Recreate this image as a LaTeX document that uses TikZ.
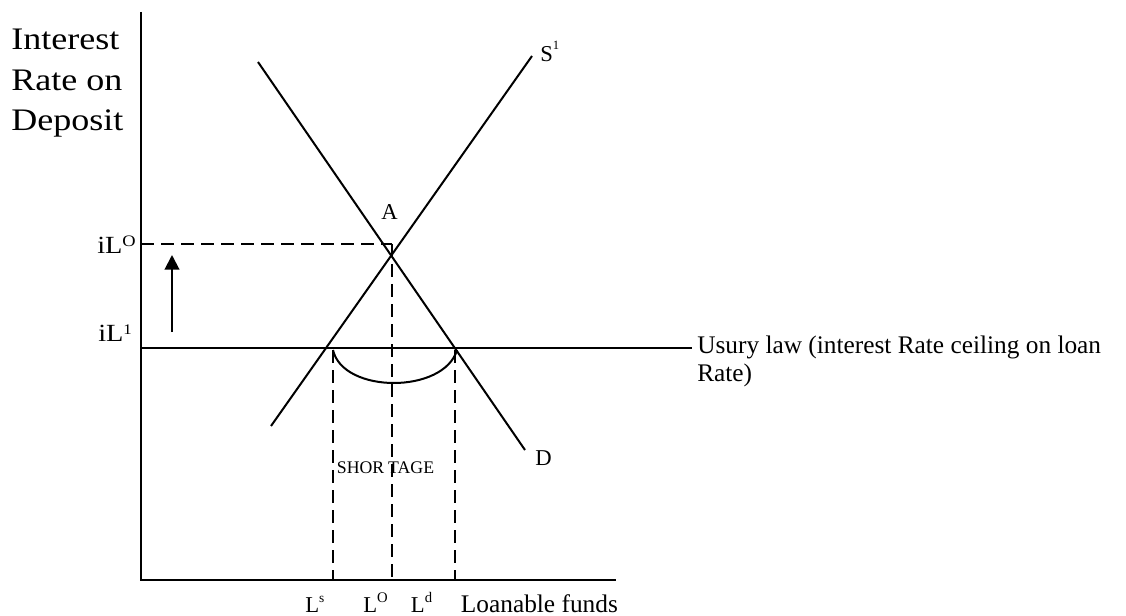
\documentclass[tikz,border=0pt]{standalone}
\usepackage{fontspec}
\setmainfont{Liberation Serif}
\newfontfamily\widefont[FakeStretch=1.15]{Liberation Serif}
\usetikzlibrary{arrows.meta}
\newcommand{\myup}[3]{\raisebox{#1}{\fontsize{#2}{#2}\selectfont #3}}
\begin{document}
\begin{tikzpicture}[x=0.75pt,y=-0.75pt,
  axisline/.style={line width=1.5pt},
  curve/.style={line width=1.5pt},
  guide/.style={line width=1.5pt,dash pattern=on 9.75pt off 5.25pt},
  lbl/.style={inner sep=0pt,anchor=base west,font=\fontsize{17pt}{20pt}\selectfont},
  biglbl/.style={inner sep=0pt,anchor=base west,align=left,font=\fontsize{19pt}{20.6pt}\selectfont},
  axtitle/.style={inner sep=0pt,anchor=base west,align=left,font=\widefont\fontsize{23.5pt}{30.4pt}\selectfont},
  ticklbl/.style={inner sep=0pt,anchor=base west,font=\widefont\fontsize{18.5pt}{20pt}\selectfont},
]
\useasboundingbox (0,0) rectangle (1126,616);
% axes
\coordinate (O) at (141,580);
\coordinate (Ytop) at (141,12);
\coordinate (Xend) at (616,580);
\draw[axisline] (Ytop) -- (O) -- (Xend);
% demand and supply
\coordinate (Dtop) at (258,62);
\coordinate (Dbot) at (525,450);
\coordinate (Sbot) at (271,426);
\coordinate (Stop) at (532,56);
\draw[curve] (Dtop) -- (Dbot);
\draw[curve] (Sbot) -- (Stop);
\coordinate (A) at (intersection of Dtop--Dbot and Sbot--Stop);
% ceiling line
\coordinate (C0) at (141,347.5);
\coordinate (C1) at (692,347.5);
\draw[curve] (C0) -- (C1);
% equilibrium guides
\coordinate (iLOy) at (141,244);
\coordinate (Acorner) at (392,244);
\coordinate (LOx) at (392,580);
\draw[guide] (iLOy) -- (Acorner);
\draw[guide] (Acorner) -- (LOx);
% shortage guides
\coordinate (Ltop) at (333,350);
\coordinate (Lsx) at (333,580);
\coordinate (Rtop) at (455,350);
\coordinate (Ldx) at (455,580);
\draw[guide] (Ltop) -- (Lsx);
\draw[guide] (Rtop) -- (Ldx);
% shortage arc
\coordinate (arcL) at (333,350);
\coordinate (arcR) at (457,350);
\draw[curve] (arcL) .. controls (343,394) and (444,394) .. (arcR);
% arrow
\coordinate (arrB) at (172,332);
\coordinate (arrT) at (172,255);
\draw[curve,-{Triangle[length=11pt,width=11pt]}] (arrB) -- (arrT);
% labels
\node[axtitle] (ytitle) at (11,131) {Interest\\Rate on\\Deposit};
\node[lbl] (Slbl) at (540,61.7) {S\myup{9pt}{9.5pt}{1}};
\node[lbl] (Albl) at (381,220) {A};
\node[lbl] (Dlbl) at (535,465) {D};
\node[ticklbl] (iLO) at (97,253.3) {iL\myup{5pt}{12pt}{O}};
\node[ticklbl] (iL1) at (98,341.7) {iL\myup{5.5pt}{11pt}{1}};
\node[biglbl] (usury) at (697,381) {Usury law (interest Rate ceiling on loan\\Rate)};
\node[inner sep=0pt,anchor=base,font=\fontsize{13.3pt}{15pt}\selectfont] (short) at (385.5,473.5) {SHOR\kern3pt TAGE};
\node[lbl] (Ls) at (305,612) {L\myup{7.5pt}{10pt}{s}};
\node[lbl] (LO) at (363,612) {L\myup{6.8pt}{11pt}{O}};
\node[lbl] (Ld) at (410.7,612) {L\myup{7.5pt}{11pt}{d}};
\node[biglbl] (xtitle) at (460.7,612) {Loanable funds};
\end{tikzpicture}
\end{document}
